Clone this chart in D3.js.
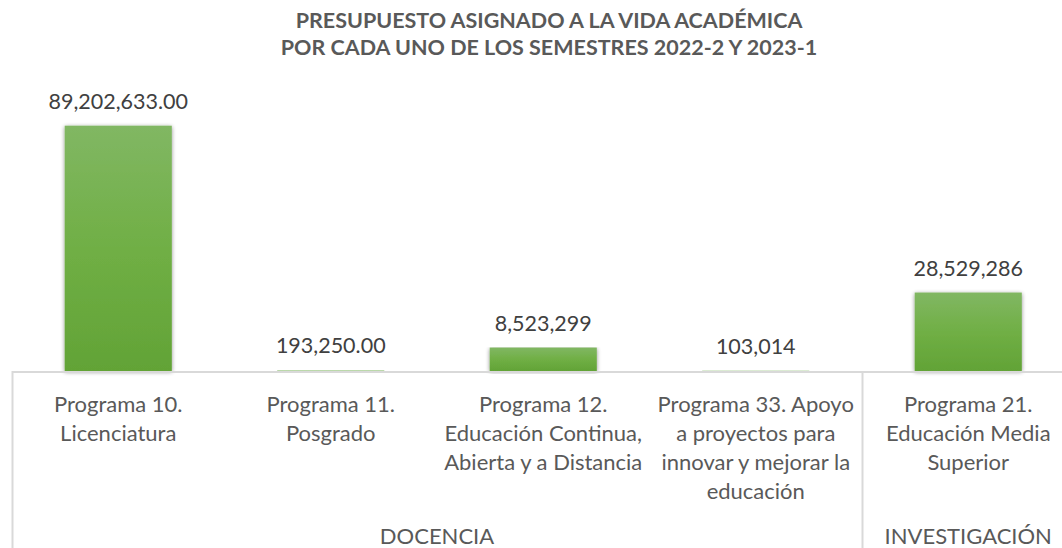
<!DOCTYPE html>
<html>
<head>
<meta charset="utf-8">
<script src="https://cdn.jsdelivr.net/npm/d3@7"></script>
<style>
  html, body { margin: 0; padding: 0; background: #fff; }
  svg { display: block; font-family: Lato, "Open Sans", sans-serif; }
</style>
</head>
<body>
<svg id="chart" width="1062" height="548"></svg>
<script>
// Budget per academic programme
const titleLines = [
  "PRESUPUESTO ASIGNADO A LA VIDA ACADÉMICA",
  "POR CADA UNO DE LOS SEMESTRES 2022-2 Y 2023-1"
];
const categories = [
  "Programa 10.\nLicenciatura",
  "Programa 11.\nPosgrado",
  "Programa 12.\nEducación Continua,\nAbierta y a Distancia",
  "Programa 33. Apoyo\na proyectos para\ninnovar y mejorar la\neducación",
  "Programa 21.\nEducación Media\nSuperior"
];
const values = [89202633.00, 193250.00, 8523299, 103014, 28529286];
const labelDecimals = [2, 2, 0, 0, 0];
const groups = ["DOCENCIA", "INVESTIGACIÓN"];
const groupSizes = [4, 1];

const svg = d3.select("#chart");
const W = 1062, H = 548;
const margin = { left: 12, right: -12.5, top: 96, bottom: 177 };
const baseY = H - margin.bottom;

const x = d3.scaleBand()
  .domain(d3.range(categories.length))
  .range([margin.left, W - margin.right])
  .paddingInner(0.496)
  .paddingOuter(0.248);
const step = x.step();

const y = d3.scaleLinear()
  .domain([0, 100000000])
  .range([baseY, margin.top]);

// bar gradient and soft shadow
const defs = svg.append("defs");
const grad = defs.append("linearGradient")
  .attr("id", "barFill").attr("x1", 0).attr("y1", 0).attr("x2", 0).attr("y2", 1);
grad.append("stop").attr("offset", "0%").attr("stop-color", "#81b763");
grad.append("stop").attr("offset", "50%").attr("stop-color", "#70af45");
grad.append("stop").attr("offset", "100%").attr("stop-color", "#62a336");

const shadow = defs.append("filter").attr("id", "barShadow")
  .attr("x", "-20%").attr("y", "-5%").attr("width", "140%").attr("height", "115%");
shadow.append("feGaussianBlur").attr("in", "SourceAlpha").attr("stdDeviation", 2.2).attr("result", "b");
shadow.append("feOffset").attr("in", "b").attr("dx", 0).attr("dy", 1).attr("result", "o");
shadow.append("feComponentTransfer").attr("in", "o").attr("result", "s")
  .append("feFuncA").attr("type", "linear").attr("slope", 0.45);
const merge = shadow.append("feMerge");
merge.append("feMergeNode").attr("in", "s");
merge.append("feMergeNode").attr("in", "SourceGraphic");

// title
svg.append("g").selectAll("text")
  .data(titleLines)
  .join("text")
  .attr("x", 549)
  .attr("y", (d, i) => 28 + i * 27)
  .attr("text-anchor", "middle")
  .attr("font-size", 21.5)
  .attr("font-weight", 700)
  .attr("fill", "#595959")
  .text(d => d);

// bars (tiny values stay hidden under the axis line)
svg.append("g").selectAll("rect")
  .data(values)
  .join("rect")
  .attr("x", (d, i) => x(i))
  .attr("width", x.bandwidth())
  .attr("y", d => y(d))
  .attr("height", d => Math.max(0, baseY - y(d)))
  .attr("fill", "url(#barFill)")
  .attr("filter", d => baseY - y(d) > 2 ? "url(#barShadow)" : null);

// value labels
svg.append("g").selectAll("text")
  .data(values)
  .join("text")
  .attr("x", (d, i) => x(i) + x.bandwidth() / 2)
  .attr("y", d => y(d) - 17)
  .attr("text-anchor", "middle")
  .attr("font-size", 21.5)
  .attr("fill", "#404040")
  .text((d, i) => d3.format(`,.${labelDecimals[i]}f`)(d));

// category axis line and group dividers
const axisG = svg.append("g");
axisG.append("line")
  .attr("x1", margin.left).attr("x2", W)
  .attr("y1", baseY + 1).attr("y2", baseY + 1)
  .attr("stroke", "#d9d9d9").attr("stroke-width", 2);

let start = 0;
const dividers = [0];
groupSizes.forEach(n => { start += n; dividers.push(start); });
axisG.selectAll("line.div")
  .data(dividers.filter(i => i < categories.length))
  .join("line")
  .attr("class", "div")
  .attr("x1", i => margin.left + i * step + 0.5)
  .attr("x2", i => margin.left + i * step + 0.5)
  .attr("y1", baseY)
  .attr("y2", H)
  .attr("stroke", "#d9d9d9").attr("stroke-width", 2);

// category labels
const catG = svg.append("g").selectAll("text")
  .data(categories)
  .join("text")
  .attr("text-anchor", "middle")
  .attr("font-size", 22)
  .attr("fill", "#595959");
catG.selectAll("tspan")
  .data((d, i) => d.split("\n").map(t => ({ t, i })))
  .join("tspan")
  .attr("x", d => x(d.i) + x.bandwidth() / 2)
  .attr("y", (d, j) => 412 + j * 29)
  .text(d => d.t);

// group labels
let acc = 0;
const groupPos = groupSizes.map(n => { const c = margin.left + (acc + n / 2) * step; acc += n; return c; });
svg.append("g").selectAll("text")
  .data(groups)
  .join("text")
  .attr("x", (d, i) => groupPos[i])
  .attr("y", 544)
  .attr("text-anchor", "middle")
  .attr("font-size", 22)
  .attr("fill", "#595959")
  .text(d => d);
</script>
</body>
</html>
